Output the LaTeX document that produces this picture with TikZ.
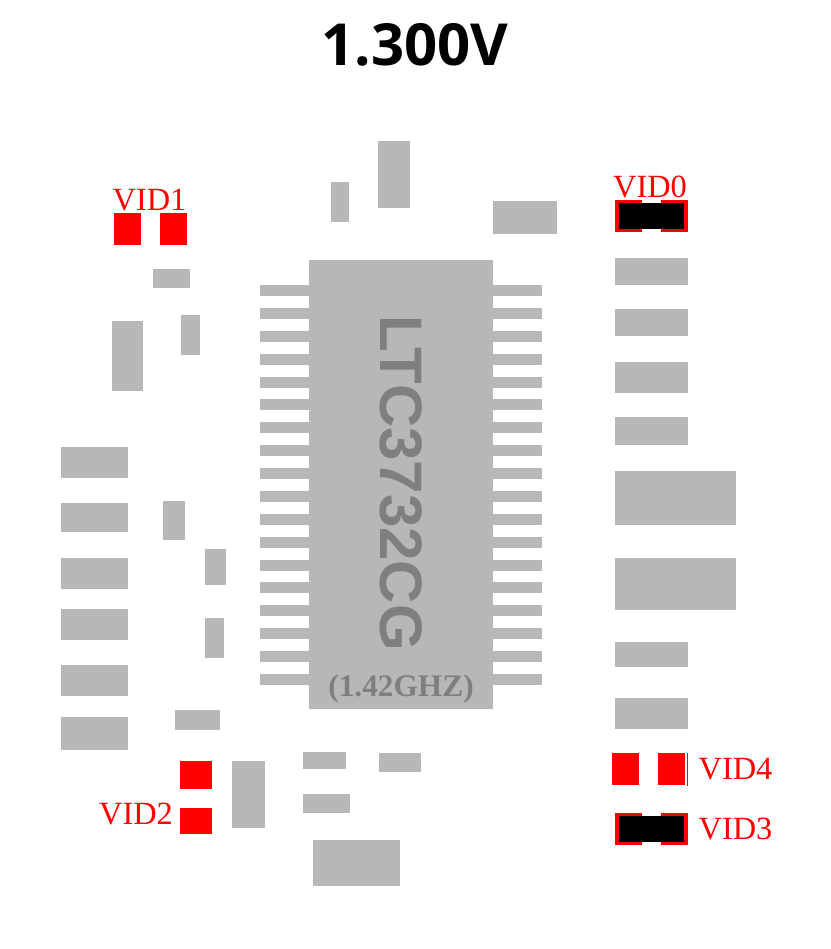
\documentclass[tikz,border=0pt]{standalone}
\usepackage{fontspec}
\setmainfont{Liberation Serif}
\newfontfamily\titlefont{Open Sans}
\newfontfamily\chipfont{Liberation Sans}
\definecolor{padgray}{HTML}{B7B7B7}
\definecolor{chipgray}{HTML}{7F7F7F}
\tikzset{
  gpad/.style 2 args={fill=padgray, inner sep=0, outer sep=0, anchor=north west,
    minimum width=#1*0.75pt, minimum height=#2*0.75pt},
  rpad/.style 2 args={fill=red, inner sep=0, outer sep=0, anchor=north west,
    minimum width=#1*0.75pt, minimum height=#2*0.75pt},
  kpad/.style 2 args={fill=black, inner sep=0, outer sep=0, anchor=north west,
    minimum width=#1*0.75pt, minimum height=#2*0.75pt},
  vid/.style={text=red, inner sep=0, font=\fontsize{24.3}{24.3}\selectfont},
}

\begin{document}
\begin{tikzpicture}[x=0.75pt, y=-0.75pt]

  \useasboundingbox (0,0) rectangle (831,949);

  % Title
  \node[inner sep=0, font=\titlefont\bfseries\fontsize{43.5}{44}\selectfont] (title) at (415,45) {1.300V}; %

  % Chip
  \node[gpad={184}{449}] (chip) at (309,260) {}; %
  \foreach \i in {0,...,17} {
    \node[gpad={49}{11}] (pinl\i) at (260,285+\i*22.88) {}; %
    \node[gpad={49}{11}] (pinr\i) at (493,285+\i*22.88) {}; %
  }
  \node[inner sep=0, rotate=-90, text=chipgray, font=\chipfont\bfseries\fontsize{45}{45}\selectfont] (part) at (401,483) {LTC3732CG}; %
  \node[inner sep=0, text=chipgray, font=\bfseries\fontsize{23.5}{23.5}\selectfont] (speed) at (401,689) {(1.42GHZ)}; %

  % Top parts
  \node[gpad={32}{67}] (t1) at (378,141) {}; %
  \node[gpad={18}{40}] (t2) at (331,182) {}; %
  \node[gpad={64}{33}] (t3) at (493,201) {}; %

  % Upper left parts
  \node[gpad={37}{19}] (u1) at (153,269) {}; %
  \node[gpad={19}{40}] (u2) at (181,315) {}; %
  \node[gpad={31}{70}] (u3) at (112,321) {}; %

  % Left column
  \node[gpad={67}{31}] (l1) at (61,447) {}; %
  \node[gpad={67}{29}] (l2) at (61,503) {}; %
  \node[gpad={67}{31}] (l3) at (61,558) {}; %
  \node[gpad={67}{31}] (l4) at (61,609) {}; %
  \node[gpad={67}{31}] (l5) at (61,665) {}; %
  \node[gpad={67}{33}] (l6) at (61,717) {}; %

  % Between left column and chip
  \node[gpad={22}{39}] (m1) at (163,501) {}; %
  \node[gpad={21}{36}] (m2) at (205,549) {}; %
  \node[gpad={19}{40}] (m3) at (205,618) {}; %
  \node[gpad={45}{20}] (m4) at (175,710) {}; %

  % Bottom parts
  \node[gpad={33}{67}] (b1) at (232,761) {}; %
  \node[gpad={43}{17}] (b2) at (303,752) {}; %
  \node[gpad={42}{19}] (b3) at (379,753) {}; %
  \node[gpad={47}{19}] (b4) at (303,794) {}; %
  \node[gpad={87}{46}] (b5) at (313,840) {}; %

  % Right column
  \node[gpad={73}{27}] (r1) at (615,258) {}; %
  \node[gpad={73}{27}] (r2) at (615,309) {}; %
  \node[gpad={73}{31}] (r3) at (615,362) {}; %
  \node[gpad={73}{28}] (r4) at (615,417) {}; %
  \node[gpad={121}{54}] (r5) at (615,471) {}; %
  \node[gpad={121}{52}] (r6) at (615,558) {}; %
  \node[gpad={73}{25}] (r7) at (615,642) {}; %
  \node[gpad={73}{31}] (r8) at (615,698) {}; %

  % VID1 and VID2 jumpers
  \node[rpad={27}{32}] (v1a) at (114,213) {}; %
  \node[rpad={27}{32}] (v1b) at (160,213) {}; %
  \node[rpad={32}{28}] (v2a) at (180,761) {}; %
  \node[rpad={32}{26}] (v2b) at (180,808) {}; %

  % VID0 jumper
  \node[rpad={27}{32}] (v0a) at (615,200) {}; %
  \node[rpad={27}{32}] (v0b) at (661,200) {}; %
  \node[kpad={65}{26}] (v0k) at (619,203) {}; %

  % VID4 jumper
  \node[rpad={27}{32}] (v4a) at (612,753) {}; %
  \node[rpad={27}{32}] (v4b) at (658,753) {}; %
  \node[rpad={1}{33}] (v4c) at (687,753) {}; %

  % VID3 jumper
  \node[rpad={27}{32}] (v3a) at (615,813) {}; %
  \node[rpad={27}{32}] (v3b) at (661,813) {}; %
  \node[kpad={65}{26}] (v3k) at (619,816) {}; %

  % Labels
  \node[vid] (vid0) at (650,187) {VID0}; %
  \node[vid] (vid1) at (149.5,200) {VID1}; %
  \node[vid] (vid2) at (136,814) {VID2}; %
  \node[vid] (vid3) at (735.5,829) {VID3}; %
  \node[vid] (vid4) at (735.5,769) {VID4}; %

\end{tikzpicture}
\end{document}
